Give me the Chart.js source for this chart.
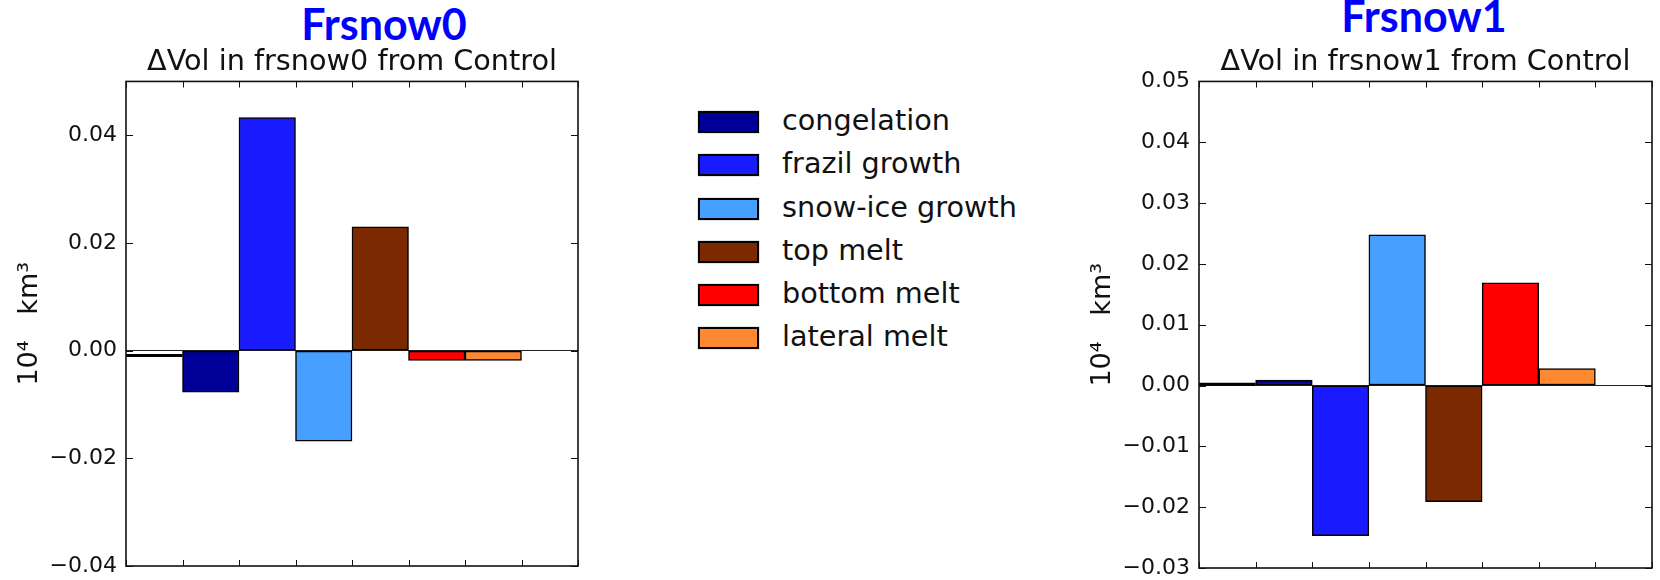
<!DOCTYPE html>
<html>
<head>
<meta charset="utf-8">
<script src="https://cdn.jsdelivr.net/npm/chart.js@4.4.0/dist/chart.umd.min.js"></script>
<style>
  html, body { margin: 0; padding: 0; background: #fff; }
  body { width: 1660px; height: 580px; position: relative; overflow: hidden; font-family: 'DejaVu Sans', sans-serif; }
  canvas { position: absolute; top: 0; }
  .head { position: absolute; width: 400px; text-align: center; font-family: Lato, sans-serif; font-weight: 700;
          font-size: 43px; line-height: 42px; color: #0000ff; }
  #legend { position: absolute; left: 698px; top: 99px; }
  .item { height: 43.3px; line-height: 43.3px; font-size: 28.7px; color: #111; white-space: nowrap; }
  .swatch { display: inline-block; width: 57px; height: 18px; border: 2px solid #000; vertical-align: middle;
            margin-right: 23px; box-shadow: 0 0 1px rgba(0,0,0,.6); }
</style>
</head>
<body>
<div class="head" style="left:184px; top:3px">Frsnow0</div>
<div class="head" style="left:1224px; top:-5px">Frsnow1</div>
<canvas id="frsnow0Chart" width="620" height="580" style="left:0"></canvas>
<canvas id="frsnow1Chart" width="587" height="580" style="left:1073px"></canvas>
<div id="legend"></div>
<script>
// values, units 10^4 km^3
var categories = ['congelation', 'frazil growth', 'snow-ice growth', 'top melt', 'bottom melt', 'lateral melt'];
var colors = ['#000099', '#1a1aff', '#47a0ff', '#7a2900', '#ff0000', '#ff8833'];
var frsnow0Values = [-0.0077, 0.0433, -0.0168, 0.0230, -0.0018, -0.0018];
var frsnow1Values = [0.0009, -0.0247, 0.0248, -0.0191, 0.0169, 0.0028];
// the black line in the first slot
var frsnow0Net = -0.0009;
var frsnow1Net = 0.0002;
var frsnow0Ticks = [-0.04, -0.02, 0.00, 0.02, 0.04];
var frsnow1Ticks = [-0.03, -0.02, -0.01, 0.00, 0.01, 0.02, 0.03, 0.04, 0.05];
var xTicks = [0, 1, 2, 3, 4, 5, 6, 7, 8];

// matplotlib style frame with inward ticks
var mplBox = {
    id: 'mplBox',
    afterDatasetsDraw: function(chart) {
        var a = chart.chartArea, ctx = chart.ctx;
        var x = chart.scales.x, y = chart.scales.y;
        ctx.save();
        ctx.strokeStyle = '#111';
        ctx.lineWidth = 1;
        ctx.beginPath();
        x.ticks.forEach(function(t) {
            var px = Math.round(x.getPixelForValue(t.value)) + 0.5;
            ctx.moveTo(px, a.top); ctx.lineTo(px, a.top + 6);
            ctx.moveTo(px, a.bottom); ctx.lineTo(px, a.bottom - 6);
        });
        y.ticks.forEach(function(t) {
            var py = Math.round(y.getPixelForValue(t.value)) + 0.5;
            ctx.moveTo(a.left, py); ctx.lineTo(a.left + 7, py);
            ctx.moveTo(a.right, py); ctx.lineTo(a.right - 7, py);
        });
        ctx.stroke();
        ctx.lineWidth = 1.6;
        ctx.strokeRect(a.left, a.top, a.right - a.left, a.bottom - a.top);
        ctx.restore();
    }
};

function makeChart(id, title, values, net, ticks, padRight, padBottom) {
    var ctx = document.getElementById(id).getContext('2d');
    return new Chart(ctx, {
        type: 'bar',
        data: {
            datasets: [{
                type: 'bar',
                data: values.map(function(v, i) { return {x: i + 1.5, y: v}; }),
                backgroundColor: colors,
                borderColor: '#000',
                borderWidth: 1.5,
                borderSkipped: false,
                barPercentage: 1,
                categoryPercentage: 1,
                order: 2
            }, {
                type: 'line',
                data: [{x: 0, y: net}, {x: 1, y: net}],
                borderColor: '#000',
                borderWidth: 3,
                pointRadius: 0,
                order: 1
            }]
        },
        options: {
            responsive: false,
            animation: false,
            layout: {
                padding: {left: 0, right: padRight, top: 0, bottom: 0}
            },
            plugins: {
                legend: {display: false},
                tooltip: {enabled: false},
                title: {
                    display: true,
                    fullSize: false,
                    text: title,
                    color: '#111',
                    font: {family: 'DejaVu Sans', size: 28.7, weight: 'normal'},
                    padding: {top: 45, bottom: 2}
                }
            },
            scales: {
                x: {
                    type: 'linear',
                    offset: false,
                    min: 0,
                    max: 8,
                    afterBuildTicks: function(s) { s.ticks = xTicks.map(function(v) { return {value: v}; }); },
                    afterFit: function(s) { s.height = padBottom; },
                    ticks: {display: false},
                    grid: {display: false},
                    border: {display: false}
                },
                y: {
                    min: ticks[0],
                    max: 0.05,
                    afterBuildTicks: function(s) { s.ticks = ticks.map(function(v) { return {value: v}; }); },
                    afterFit: function(s) {
                        s.width = 126;
                        s.paddingTop = 0;
                        s.paddingBottom = 0;
                    },
                    border: {display: false},
                    grid: {
                        drawTicks: false,
                        lineWidth: 1,
                        color: function(c) { return c.tick && c.tick.value === 0 ? '#222' : 'rgba(0,0,0,0)'; }
                    },
                    ticks: {
                        padding: 9,
                        color: '#111',
                        font: {family: 'DejaVu Sans', size: 22},
                        callback: function(v) { return v.toFixed(2).replace('-', '\u2212'); }
                    },
                    title: {
                        display: true,
                        text: '10\u2074   km\u00b3',
                        color: '#111',
                        font: {family: 'DejaVu Sans', size: 27},
                        padding: {top: 14, bottom: 0}
                    }
                }
            }
        },
        plugins: [mplBox]
    });
}

makeChart('frsnow0Chart', '\u0394Vol in frsnow0 from Control', frsnow0Values, frsnow0Net, frsnow0Ticks, 42, 14);
makeChart('frsnow1Chart', '\u0394Vol in frsnow1 from Control', frsnow1Values, frsnow1Net, frsnow1Ticks, 8, 12);

var legend = document.getElementById('legend');
categories.forEach(function(name, i) {
    var row = document.createElement('div');
    row.className = 'item';
    var sw = document.createElement('span');
    sw.className = 'swatch';
    sw.style.background = colors[i];
    row.appendChild(sw);
    row.appendChild(document.createTextNode(name));
    legend.appendChild(row);
});
</script>
</body>
</html>
